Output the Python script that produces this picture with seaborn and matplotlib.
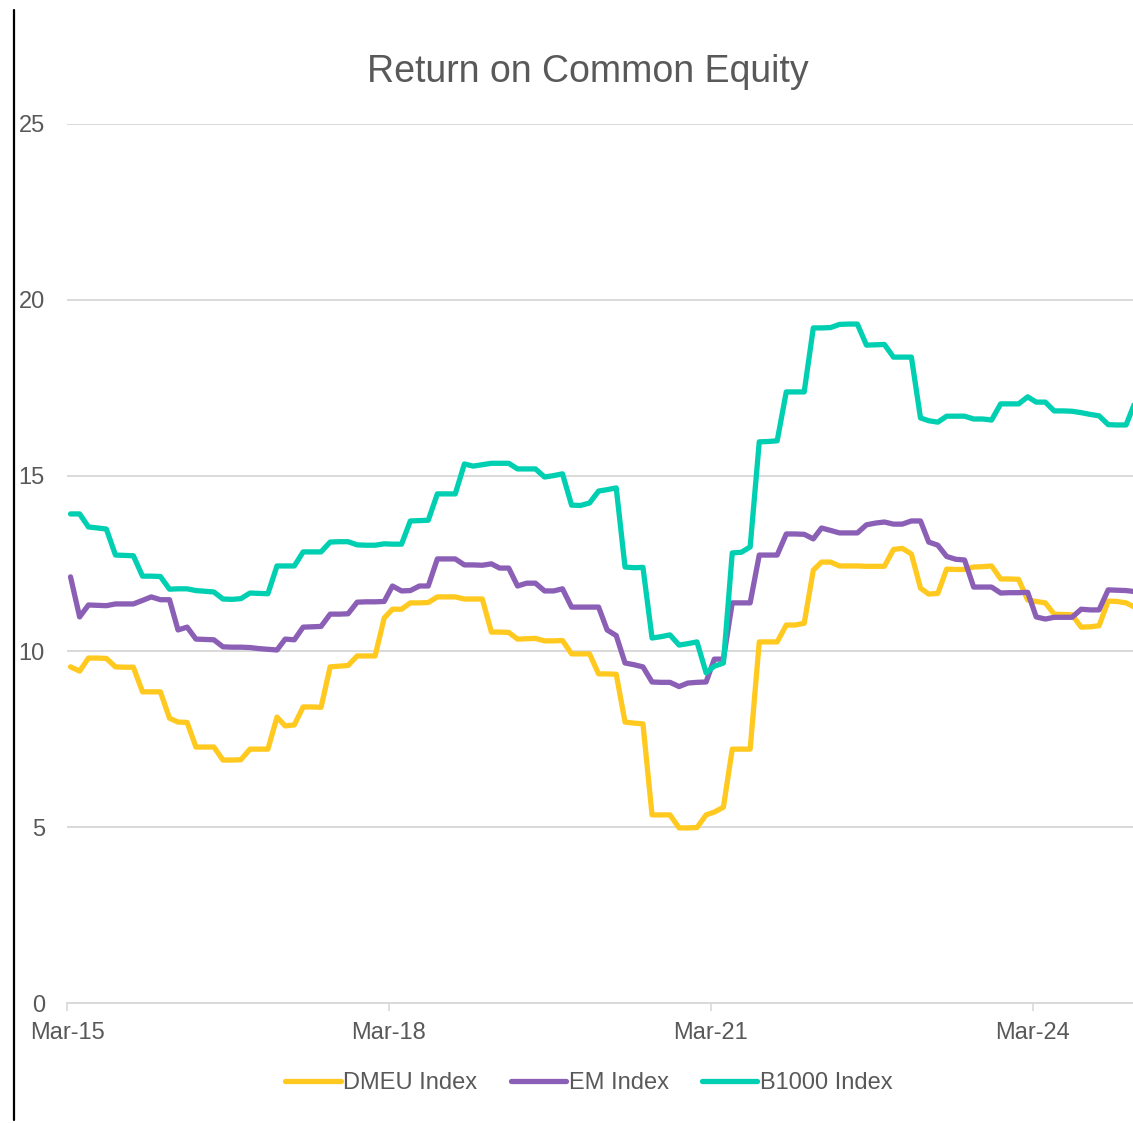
import numpy as np
import pandas as pd
import matplotlib
matplotlib.use("Agg")
import matplotlib.pyplot as plt
import matplotlib.dates as mdates
from matplotlib.lines import Line2D
import seaborn as sns

# -------------------------------------------------
# Data (monthly)
# -------------------------------------------------

dates = pd.date_range("2015-03-01", periods=120, freq="MS") + pd.Timedelta(days=12)

dmeu = [
    9.56, 9.44, 9.81, 9.81, 9.80, 9.56, 9.55, 9.55, 8.85, 8.85,
    8.85, 8.10, 7.99, 7.98, 7.28, 7.28, 7.28, 6.91, 6.91, 6.92,
    7.22, 7.22, 7.22, 8.13, 7.88, 7.91, 8.42, 8.42, 8.41, 9.56,
    9.58, 9.60, 9.87, 9.87, 9.87, 10.95, 11.20, 11.20, 11.38, 11.38,
    11.39, 11.55, 11.55, 11.55, 11.49, 11.49, 11.49, 10.55, 10.55, 10.54,
    10.35, 10.36, 10.37, 10.30, 10.30, 10.31, 9.93, 9.93, 9.93, 9.36,
    9.36, 9.35, 7.99, 7.96, 7.94, 5.35, 5.35, 5.35, 4.98, 4.98,
    4.99, 5.35, 5.43, 5.57, 7.22, 7.22, 7.22, 10.27, 10.27, 10.27,
    10.75, 10.75, 10.80, 12.31, 12.54, 12.54, 12.43, 12.43, 12.43, 12.42,
    12.42, 12.42, 12.90, 12.93, 12.77, 11.80, 11.63, 11.65, 12.34, 12.33,
    12.33, 12.40, 12.41, 12.43, 12.06, 12.06, 12.05, 11.46, 11.42, 11.38,
    11.06, 11.05, 11.04, 10.69, 10.70, 10.73, 11.43, 11.42, 11.38, 11.25,
]

em = [
    12.12, 10.98, 11.32, 11.31, 11.30, 11.35, 11.35, 11.35, 11.45, 11.55,
    11.47, 11.47, 10.61, 10.69, 10.35, 10.34, 10.33, 10.13, 10.12, 10.12,
    10.11, 10.08, 10.06, 10.04, 10.35, 10.33, 10.69, 10.70, 10.71, 11.06,
    11.06, 11.07, 11.40, 11.41, 11.41, 11.42, 11.86, 11.72, 11.73, 11.86,
    11.86, 12.63, 12.63, 12.63, 12.46, 12.46, 12.45, 12.49, 12.37, 12.37,
    11.86, 11.94, 11.94, 11.72, 11.72, 11.78, 11.26, 11.26, 11.26, 11.26,
    10.61, 10.45, 9.67, 9.62, 9.56, 9.13, 9.12, 9.12, 9.00, 9.10,
    9.12, 9.13, 9.78, 9.78, 11.38, 11.38, 11.38, 12.74, 12.74, 12.74,
    13.34, 13.34, 13.33, 13.20, 13.51, 13.44, 13.37, 13.37, 13.37, 13.60,
    13.65, 13.68, 13.62, 13.62, 13.71, 13.71, 13.11, 13.02, 12.70, 12.62,
    12.60, 11.83, 11.83, 11.83, 11.66, 11.67, 11.67, 11.68, 10.98, 10.92,
    10.97, 10.97, 10.97, 11.20, 11.18, 11.18, 11.75, 11.74, 11.73, 11.70,
]

b1000 = [
    13.91, 13.91, 13.54, 13.51, 13.48, 12.74, 12.73, 12.72, 12.14, 12.14,
    12.13, 11.77, 11.78, 11.78, 11.73, 11.71, 11.69, 11.49, 11.48, 11.50,
    11.66, 11.65, 11.64, 12.43, 12.43, 12.43, 12.83, 12.83, 12.83, 13.11,
    13.12, 13.12, 13.03, 13.02, 13.02, 13.06, 13.05, 13.05, 13.71, 13.72,
    13.73, 14.48, 14.48, 14.48, 15.33, 15.27, 15.31, 15.35, 15.35, 15.35,
    15.19, 15.19, 15.19, 14.96, 15.00, 15.05, 14.16, 14.15, 14.22, 14.56,
    14.60, 14.65, 12.40, 12.38, 12.39, 10.38, 10.42, 10.47, 10.18, 10.22,
    10.27, 9.39, 9.58, 9.67, 12.80, 12.82, 12.97, 15.96, 15.97, 15.99,
    17.38, 17.38, 17.38, 19.20, 19.20, 19.21, 19.30, 19.31, 19.31, 18.71,
    18.72, 18.73, 18.37, 18.37, 18.37, 16.64, 16.56, 16.52, 16.69, 16.69,
    16.69, 16.61, 16.61, 16.58, 17.04, 17.04, 17.04, 17.24, 17.09, 17.09,
    16.84, 16.84, 16.83, 16.79, 16.74, 16.70, 16.45, 16.44, 16.44, 17.10,
]

series_names = ["DMEU Index", "EM Index", "B1000 Index"]
colors = ["#FFC91F", "#8A5FB5", "#00D0B1"]

df = pd.concat([
    pd.DataFrame({"date": dates, "value": vals, "series": name})
    for name, vals in zip(series_names, [dmeu, em, b1000])
])

# -------------------------------------------------
# Plot
# -------------------------------------------------

sns.set_theme(style="white")
plt.rcParams["font.family"] = ["Liberation Sans", "DejaVu Sans"]
plt.rcParams["lines.solid_joinstyle"] = "round"
plt.rcParams["lines.solid_capstyle"] = "round"

W, H = 1133, 1123
fig = plt.figure(figsize=(W / 100, H / 100), dpi=100)
ax = fig.add_axes([67 / W, 1 - 1003 / H, 1082 / W, (1003 - 124) / H])

sns.lineplot(
    data=df, x="date", y="value", hue="series",
    palette=colors, linewidth=3.8, ax=ax, legend=True
)

ax.set_ylim(0, 25)
ax.set_yticks([0, 5, 10, 15, 20, 25])
ax.set_xlim(pd.Timestamp("2015-03-01"), pd.Timestamp("2025-04-01"))
ax.set_xticks([pd.Timestamp(f"{y}-03-01") for y in (2015, 2018, 2021, 2024)])
ax.xaxis.set_major_formatter(mdates.DateFormatter("%b-%y"))

ax.grid(axis="y", color="#D9D9D9", linewidth=1.4)
ax.set_axisbelow(True)
for side in ["top", "right", "left"]:
    ax.spines[side].set_visible(False)
ax.spines["bottom"].set_color("#D9D9D9")
ax.spines["bottom"].set_linewidth(1.4)

ax.tick_params(axis="x", length=6, width=1.2, color="#D9D9D9",
               labelsize=17, labelcolor="#595959", pad=7.5, bottom=True)
ax.tick_params(axis="y", length=0, labelsize=17, labelcolor="#595959", pad=16)
ax.set_xlabel("")
ax.set_ylabel("")

fig.text(588 / W, 1 - 72 / H, "Return on Common Equity", ha="center", va="center",
         fontsize=27, color="#595959")

handles, labels = ax.get_legend_handles_labels()
ax.get_legend().remove()
fig.legend(handles, labels, loc="center", bbox_to_anchor=(589 / W, 1 - 1083 / H),
           ncol=3, frameon=False, fontsize=17, handlelength=2.35,
           handletextpad=0.12, columnspacing=1.4, labelcolor="#595959")

# black border line at the left edge
fig.add_artist(Line2D([14 / W, 14 / W], [1 - 10 / H, 1 - 1120 / H],
                      transform=fig.transFigure, color="black", linewidth=1.6))

fig.savefig("out.png", dpi=100)
plt.close(fig)
